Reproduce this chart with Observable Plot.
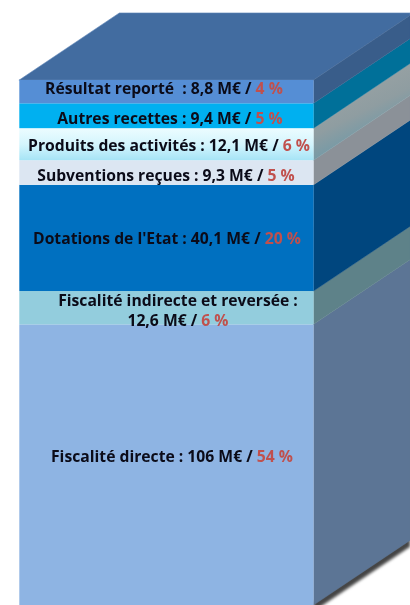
<!DOCTYPE html>
<html>
<head>
<meta charset="utf-8">
<style>html,body{margin:0;padding:0;background:#fff;overflow:hidden}svg{display:block}</style>
<script src="https://cdn.jsdelivr.net/npm/d3@7"></script>
<script src="https://cdn.jsdelivr.net/npm/@observablehq/plot@0.6"></script>
</head>
<body>
<div id="chart"></div>
<script>
// bottom to top
const names = ["Fiscalité directe","Fiscalité indirecte et reversée","Dotations de l'Etat","Subventions reçues","Produits des activités","Autres recettes","Résultat reporté"];
const values = [106,12.6,40.1,9.3,12.1,9.4,8.8];
const valueLabels = ["106","12,6","40,1","9,3","12,1","9,4","8,8"];
const shares = [54,6,20,5,6,5,4];
const labelSeparators = [" : "," :\n"," : "," : "," : "," : ","  : "];
const frontColors = ["#8eb4e3","#93cddd","#0070c0","#dce6f2","url(#frontGrad)","#00b0f0","#558ed5"];
const sideColors = ["#5c7595","#5e8289","#00467e","#8b9198","url(#sideGrad)","#007099","#395d8a"];
const topColor = "#426ca0";

const tops = Array.from(d3.cumsum(values));
const bands = names.map((name,i)=>({
  name, lo: i ? tops[i-1] : 0, hi: tops[i],
  front: frontColors[i], side: sideColors[i],
  label: `${name}${labelSeparators[i]}${valueLabels[i]} M€ / ${shares[i]} %`
}));
const total = tops[tops.length-1];

// Extrusion of the block, in x-scale and y-scale units
const slope = 74.5, backX = 0.34, endX = 1.3276;
const rise = x => (x-1)*slope;
const sidePts = b => [1,endX].map(x=>({x, y1:b.lo+rise(x), y2:b.hi+rise(x)}));
const topPts = [0,backX,1,endX].map(x=>({
  x,
  y1: x<=1 ? total : total+rise(x),
  y2: total+Math.min(x,backX)*slope
}));
const shadowPts = [1,endX].map(x=>({x, y1:rise(x)-2.4, y2:rise(x)+1}));

const nudgeX = [5,11,0,-1,2,3,-3];
const nudgeY = [-10,1,-1,2,0,1,-5];

const frontPlot = Plot.plot({
  width:410, height:605, margin:0,
  x:{domain:[-0.0656,endX], range:[0,410], axis:null},
  y:{domain:[0,total], range:[605,80], axis:null},
  style:{background:"#fff"},
  marks:[
    Plot.areaY(shadowPts,{x:"x",y1:"y1",y2:"y2",fill:"#444",imageFilter:"blur(1.6px)"}),
    Plot.areaY(topPts,{x:"x",y1:"y1",y2:"y2",fill:topColor,stroke:"#5f86b8",strokeWidth:0.6}),
    ...bands.map(b=>Plot.areaY(sidePts(b),{x:"x",y1:"y1",y2:"y2",fill:b.side,stroke:b.side,strokeWidth:0.4})),
    Plot.rect(bands,{x1:0,x2:1,y1:"lo",y2:"hi",fill:d=>d.front}),
    ...bands.map((b,i)=>Plot.text([b],{
      x:0.5, y:d=>(d.lo+d.hi)/2, text:"label", dx:nudgeX[i], dy:nudgeY[i],
      fontFamily:"'Open Sans',sans-serif", fontWeight:700, fontSize:15.7,
      lineHeight:1.28, fill:"#0b0b18", className:"lab", imageFilter:"blur(0.35px)"
    }))
  ]
});

const svg = d3.select(frontPlot);
const defs = svg.insert("defs",":first-child");
const grad = (id,stops,x2,y2)=>{
  const g = defs.append("linearGradient").attr("id",id).attr("x1",0).attr("y1",0).attr("x2",x2).attr("y2",y2);
  stops.forEach(([o,c])=>g.append("stop").attr("offset",o).attr("stop-color",c));
};
grad("frontGrad",[[0,"#ecfcff"],[0.5,"#d4f5fd"],[1,"#a6e4f6"]],0,1);
grad("sideGrad",[[0,"#a3a7a6"],[0.6,"#8f9da1"],[1,"#5f97ab"]],0.5,1);

// Colour the share after the slash in red
svg.selectAll("text").each(function(){
  const nodes = this.querySelector("tspan") ? Array.from(this.querySelectorAll("tspan")) : [this];
  nodes.forEach(n=>{
    const t = n.textContent, i = t.lastIndexOf("/ ");
    if(i<0) return;
    n.textContent = t.slice(0,i+2);
    d3.select(n).append("tspan").attr("fill","#c0504d").text(t.slice(i+2));
  });
});
document.getElementById("chart").append(frontPlot);
</script>
</body>
</html>
